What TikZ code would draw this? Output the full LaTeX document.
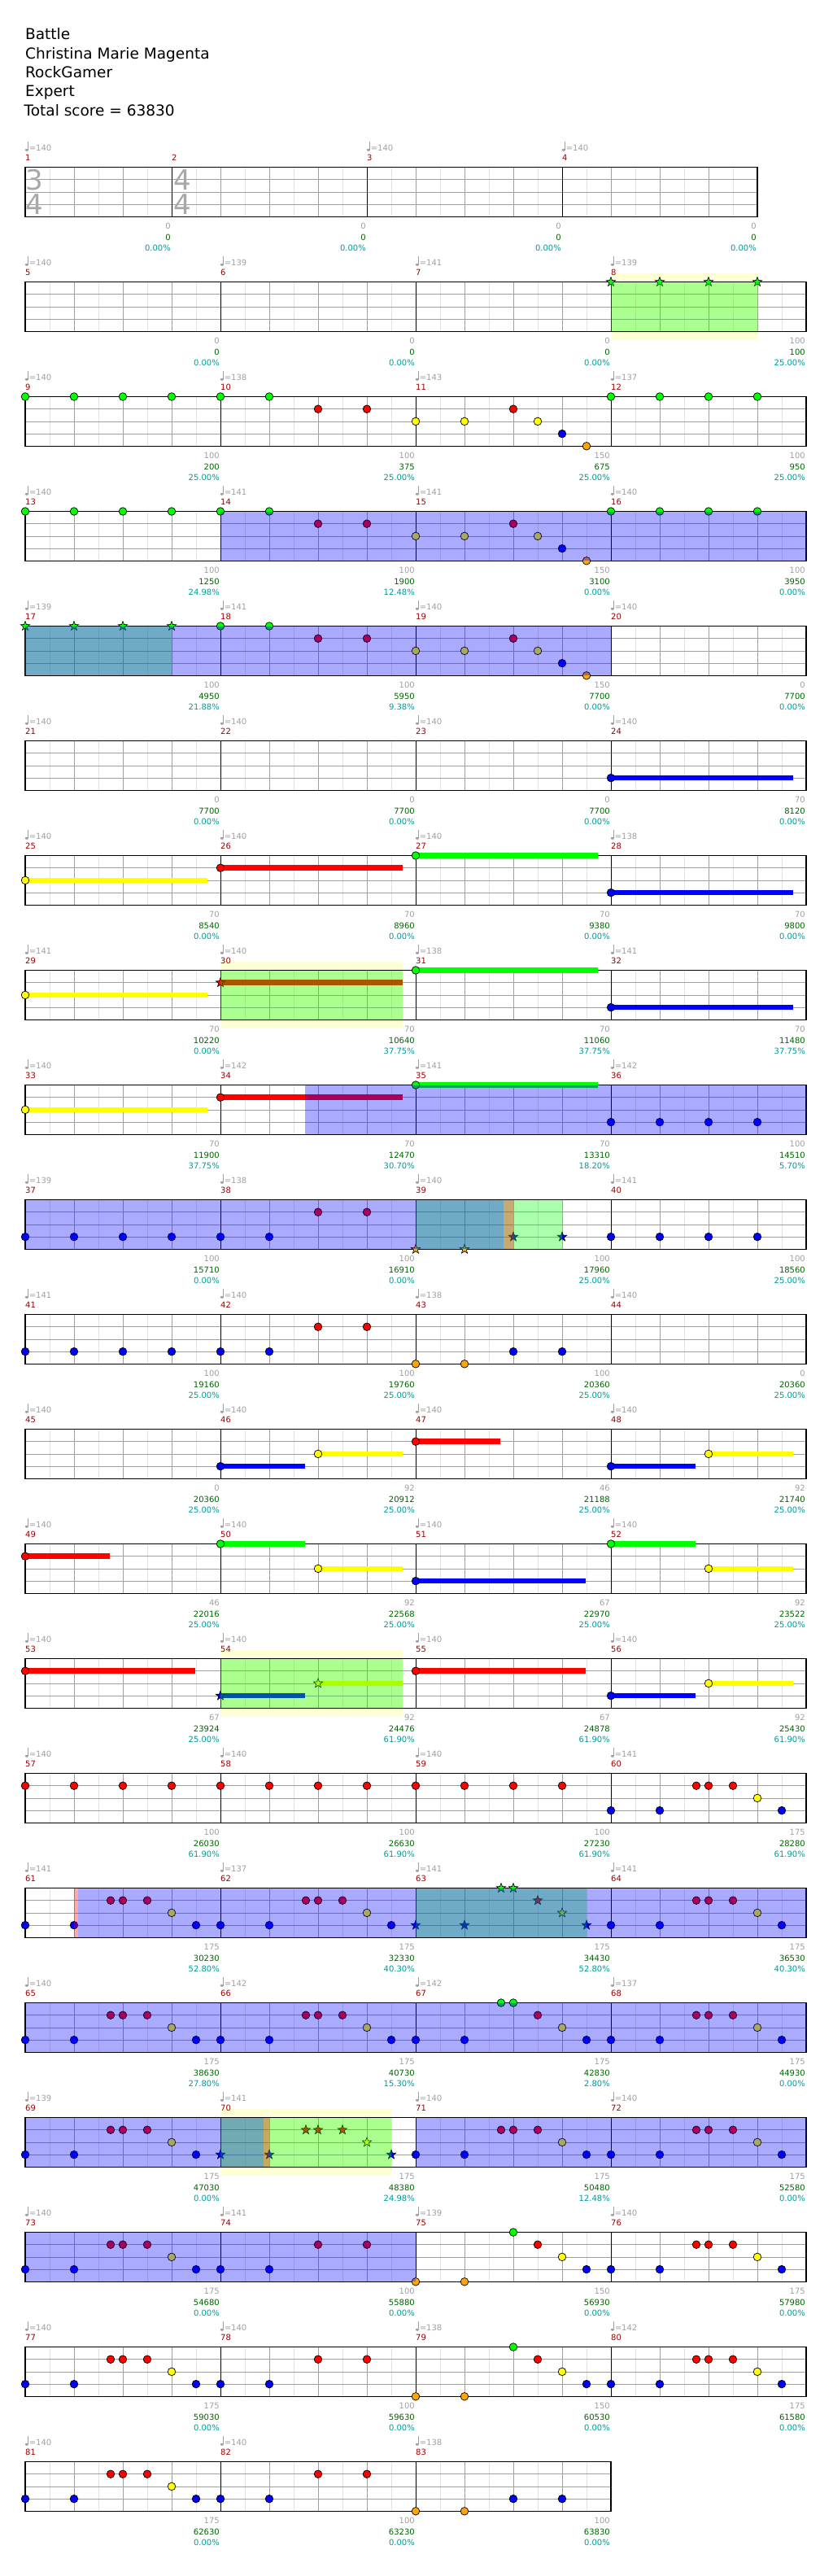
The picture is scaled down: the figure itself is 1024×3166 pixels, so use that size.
\documentclass[tikz,border=0pt]{standalone}
\usepackage{fontspec}
\setmainfont{DejaVu Sans}
\usetikzlibrary{shapes.geometric}
\definecolor{lane0}{HTML}{00FF00}
\definecolor{lane1}{HTML}{FF0000}
\definecolor{lane2}{HTML}{FFFF00}
\definecolor{lane3}{HTML}{0000FF}
\definecolor{lane4}{HTML}{FFA500}
\definecolor{ovgreen}{HTML}{00FF00}
\definecolor{ovblue}{HTML}{0000FF}
\definecolor{ovred}{HTML}{FF0000}
\definecolor{ybg}{HTML}{FFFFD6}
\definecolor{halfgray}{HTML}{E2E2E2}
\definecolor{beatgray}{HTML}{A0A0A0}
\definecolor{tgray}{HTML}{A0A0A0}
\definecolor{tsgray}{HTML}{A8A8A8}
\definecolor{numred}{HTML}{990000}
\definecolor{sgreen}{HTML}{006400}
\definecolor{steal}{HTML}{009999}
\tikzset{
  halfline/.style={draw=halfgray,line width=0.6pt},
  beatline/.style={draw=beatgray,line width=0.7pt},
  measline/.style={draw=black,line width=0.7pt},
  staffborder/.style={draw=black,line width=1.1pt},
  smalltext/.style={inner sep=0pt,font=\fontsize{10}{12}\selectfont},
  numtext/.style={smalltext,anchor=base west,text=numred},
  tempotext/.style={smalltext,anchor=base west,text=tgray},
  scoreA/.style={smalltext,anchor=base east,text=tgray},
  scoreB/.style={smalltext,anchor=base east,text=sgreen},
  scoreC/.style={smalltext,anchor=base east,text=steal},
  starnote/.style={star,star points=5,star point ratio=2.4,minimum size=12pt,inner sep=0pt,draw=black,line width=0.6pt},
  headtext/.style={anchor=base west,inner sep=0pt,font=\fontsize{18.5}{22}\selectfont},
  tsig/.style={inner sep=0pt,text=tsgray,font=\fontsize{34}{40}\selectfont},
}
\newcommand\hxX[1]{31+60*(#1)}
\newcommand\hxgrid[2]{%
  \pgfmathtruncatemacro\hxnh{2*#1-1}%
  \pgfmathtruncatemacro\hxnb{#1-1}%
  \foreach \hk in {1,3,...,\hxnh}{\draw[halfline] ({31+30*\hk},0) -- ({31+30*\hk},60.8);}
  \foreach \hk in {1,...,\hxnb}{\draw[beatline] ({31+60*\hk},0) -- ({31+60*\hk},60.8);}
  \foreach \hl in {1,2,3}{\draw[beatline] (31,{15.2*\hl}) -- ({31+60*#1},{15.2*\hl});}
  \foreach \hm in {#2}{\draw[measline] ({31+60*\hm},0) -- ({31+60*\hm},60.8);}
  \draw[staffborder] (31,0) rectangle ({31+60*#1},60.8);
}
\newcommand\hxnote[2]{\filldraw[fill=lane#2,draw=black,line width=0.7pt] ({\hxX{#1}},{15.2*#2}) circle[radius=4.8pt];}
\newcommand\hxstar[2]{\node[starnote,fill=lane#2] at ({\hxX{#1}},{15.2*#2}) {};}
\newcommand\hxbar[3]{\fill[lane#3] ({\hxX{#1}},{15.2*#3-3.3}) rectangle ({\hxX{#2}},{15.2*#3+3.3});}
\newcommand\hxsus[3]{\hxbar{#1}{#2}{#3}\hxnote{#1}{#3}}
\newcommand\hxsusS[3]{\hxbar{#1}{#2}{#3}\hxstar{#1}{#3}}
\newcommand\hxov[3]{\fill[#3,fill opacity=0.3333] ({\hxX{#1}},0) rectangle ({\hxX{#2}},60.8);}
\newcommand\hxyel[2]{\fill[ybg] ({\hxX{#1}},-10.5) rectangle ({\hxX{#2}},71);}
\newcommand\hxnum[2]{\node[numtext] at ({\hxX{#1}},-7.8) {#2};}
\newcommand\hxtempo[2]{%
  \fill[tgray] ({\hxX{#1}+1.9},-21.2) ellipse[x radius=2pt,y radius=1.5pt];
  \draw[tgray,line width=0.6pt] ({\hxX{#1}+3.6},-21.2) -- ({\hxX{#1}+3.6},-31.5);
  \node[tempotext] at ({\hxX{#1}+4.6},-20.5) {=#2};}
\newcommand\hxmeas[3]{\hxnum{#1}{#2}\hxtempo{#1}{#3}}
\newcommand\hxscore[4]{%
  \node[scoreA] at ({\hxX{#1}-1},76.3) {#2};
  \node[scoreB] at ({\hxX{#1}-1},89.7) {#3};
  \node[scoreC] at ({\hxX{#1}-1},102.7) {#4};}
% riffs
\newcommand\hxriffA[2]{#1{#2}{3}#1{#2+1}{3}#1{#2+1.75}{1}#1{#2+2}{1}#1{#2+2.5}{1}#1{#2+3}{2}#1{#2+3.5}{3}}
\newcommand\hxriffB[1]{\hxnote{#1}{3}\hxnote{#1+1}{3}\hxnote{#1+2}{1}\hxnote{#1+3}{1}}
\newcommand\hxriffC[1]{\hxnote{#1}{4}\hxnote{#1+1}{4}\hxnote{#1+2}{0}\hxnote{#1+2.5}{1}\hxnote{#1+3}{2}\hxnote{#1+3.5}{3}}
\newcommand\hxpatA{%
  \foreach \hb in {0,...,5}{\hxnote{\hb}{0}}
  \hxnote{6}{1}\hxnote{7}{1}\hxnote{8}{2}\hxnote{9}{2}\hxnote{10}{1}\hxnote{10.5}{2}\hxnote{11}{3}\hxnote{11.5}{4}
  \foreach \hb in {12,...,15}{\hxnote{\hb}{0}}}
\begin{document}
\begin{tikzpicture}[x=1pt,y=-1pt]
\useasboundingbox (0,0) rectangle (1024,3166);
\fill[white] (0,0) rectangle (1024,3166);
% header
\node[headtext] (title) at (31,49) {Battle};
\node[headtext] (artist) at (31,72.3) {Christina Marie Magenta};
\node[headtext] (charter) at (31,95.6) {RockGamer};
\node[headtext] (diff) at (31,118.9) {Expert};
\node[headtext] (total) at (29.5,142.2) {Total score = 63830};
% row 1
\begin{scope}[shift={(0,205.5)}]
\hxgrid{15}{3,7,11}
\node[tsig] at (42.5,15.2) {3};
\node[tsig] at (42.5,45.6) {4};
\node[tsig] at (224.5,15.2) {4};
\node[tsig] at (224.5,45.6) {4};
\hxmeas{0}{1}{140}\hxnum{3}{2}\hxmeas{7}{3}{140}\hxmeas{11}{4}{140}
\hxscore{3}{0}{0}{0.00\%}\hxscore{7}{0}{0}{0.00\%}\hxscore{11}{0}{0}{0.00\%}\hxscore{15}{0}{0}{0.00\%}
\end{scope}
% row 2
\begin{scope}[shift={(0,346.5)}]
\hxyel{12}{15}
\hxgrid{16}{4,8,12}
\foreach \hb in {12,...,15}{\hxstar{\hb}{0}}
\hxov{12}{15}{ovgreen}
\hxmeas{0}{5}{140}\hxmeas{4}{6}{139}\hxmeas{8}{7}{141}\hxmeas{12}{8}{139}
\hxscore{4}{0}{0}{0.00\%}\hxscore{8}{0}{0}{0.00\%}\hxscore{12}{0}{0}{0.00\%}\hxscore{16}{100}{100}{25.00\%}
\end{scope}
% row 3
\begin{scope}[shift={(0,487.5)}]
\hxgrid{16}{4,8,12}
\hxpatA
\hxmeas{0}{9}{140}\hxmeas{4}{10}{138}\hxmeas{8}{11}{143}\hxmeas{12}{12}{137}
\hxscore{4}{100}{200}{25.00\%}\hxscore{8}{100}{375}{25.00\%}\hxscore{12}{150}{675}{25.00\%}\hxscore{16}{100}{950}{25.00\%}
\end{scope}
% row 4
\begin{scope}[shift={(0,628.5)}]
\hxgrid{16}{4,8,12}
\hxpatA
\hxov{4}{16}{ovblue}
\hxmeas{0}{13}{140}\hxmeas{4}{14}{141}\hxmeas{8}{15}{141}\hxmeas{12}{16}{140}
\hxscore{4}{100}{1250}{24.98\%}\hxscore{8}{100}{1900}{12.48\%}\hxscore{12}{150}{3100}{0.00\%}\hxscore{16}{100}{3950}{0.00\%}
\end{scope}
% row 5
\begin{scope}[shift={(0,769.5)}]
\hxgrid{16}{4,8,12}
\foreach \hb in {0,...,3}{\hxstar{\hb}{0}}
\hxnote{4}{0}\hxnote{5}{0}
\hxnote{6}{1}\hxnote{7}{1}\hxnote{8}{2}\hxnote{9}{2}\hxnote{10}{1}\hxnote{10.5}{2}\hxnote{11}{3}\hxnote{11.5}{4}
\hxov{0}{3}{ovgreen}
\hxov{0}{12}{ovblue}
\hxmeas{0}{17}{139}\hxmeas{4}{18}{141}\hxmeas{8}{19}{140}\hxmeas{12}{20}{140}
\hxscore{4}{100}{4950}{21.88\%}\hxscore{8}{100}{5950}{9.38\%}\hxscore{12}{150}{7700}{0.00\%}\hxscore{16}{0}{7700}{0.00\%}
\end{scope}
% row 6
\begin{scope}[shift={(0,910.5)}]
\hxgrid{16}{4,8,12}
\hxsus{12}{15.73}{3}
\hxmeas{0}{21}{140}\hxmeas{4}{22}{140}\hxmeas{8}{23}{140}\hxmeas{12}{24}{140}
\hxscore{4}{0}{7700}{0.00\%}\hxscore{8}{0}{7700}{0.00\%}\hxscore{12}{0}{7700}{0.00\%}\hxscore{16}{70}{8120}{0.00\%}
\end{scope}
% row 7
\begin{scope}[shift={(0,1051.5)}]
\hxgrid{16}{4,8,12}
\hxsus{0}{3.74}{2}\hxsus{4}{7.74}{1}\hxsus{8}{11.74}{0}\hxsus{12}{15.73}{3}
\hxmeas{0}{25}{140}\hxmeas{4}{26}{140}\hxmeas{8}{27}{140}\hxmeas{12}{28}{138}
\hxscore{4}{70}{8540}{0.00\%}\hxscore{8}{70}{8960}{0.00\%}\hxscore{12}{70}{9380}{0.00\%}\hxscore{16}{70}{9800}{0.00\%}
\end{scope}
% row 8
\begin{scope}[shift={(0,1192.5)}]
\hxyel{4}{7.74}
\hxgrid{16}{4,8,12}
\hxsus{0}{3.74}{2}\hxsusS{4}{7.74}{1}\hxsus{8}{11.74}{0}\hxsus{12}{15.73}{3}
\hxov{4}{7.74}{ovgreen}
\hxmeas{0}{29}{141}\hxmeas{4}{30}{140}\hxmeas{8}{31}{138}\hxmeas{12}{32}{141}
\hxscore{4}{70}{10220}{0.00\%}\hxscore{8}{70}{10640}{37.75\%}\hxscore{12}{70}{11060}{37.75\%}\hxscore{16}{70}{11480}{37.75\%}
\end{scope}
% row 9
\begin{scope}[shift={(0,1333.5)}]
\hxgrid{16}{4,8,12}
\hxsus{0}{3.74}{2}\hxsus{4}{7.74}{1}\hxsus{8}{11.74}{0}
\foreach \hb in {12,...,15}{\hxnote{\hb}{3}}
\hxov{5.725}{16}{ovblue}
\hxmeas{0}{33}{140}\hxmeas{4}{34}{142}\hxmeas{8}{35}{141}\hxmeas{12}{36}{142}
\hxscore{4}{70}{11900}{37.75\%}\hxscore{8}{70}{12470}{30.70\%}\hxscore{12}{70}{13310}{18.20\%}\hxscore{16}{100}{14510}{5.70\%}
\end{scope}
% row 10
\begin{scope}[shift={(0,1474.5)}]
\hxgrid{16}{4,8,12}
\foreach \hb in {0,...,5}{\hxnote{\hb}{3}}
\hxnote{6}{1}\hxnote{7}{1}
\hxstar{8}{4}\hxstar{9}{4}\hxstar{10}{3}\hxstar{11}{3}
\foreach \hb in {12,...,15}{\hxnote{\hb}{3}}
\hxov{8}{11}{ovgreen}
\hxov{0}{9.807}{ovblue}
\hxov{9.807}{10}{ovred}
\hxmeas{0}{37}{139}\hxmeas{4}{38}{138}\hxmeas{8}{39}{140}\hxmeas{12}{40}{141}
\hxscore{4}{100}{15710}{0.00\%}\hxscore{8}{100}{16910}{0.00\%}\hxscore{12}{100}{17960}{25.00\%}\hxscore{16}{100}{18560}{25.00\%}
\end{scope}
% row 11
\begin{scope}[shift={(0,1615.5)}]
\hxgrid{16}{4,8,12}
\foreach \hb in {0,...,5}{\hxnote{\hb}{3}}
\hxnote{6}{1}\hxnote{7}{1}\hxnote{8}{4}\hxnote{9}{4}\hxnote{10}{3}\hxnote{11}{3}
\hxmeas{0}{41}{141}\hxmeas{4}{42}{140}\hxmeas{8}{43}{138}\hxmeas{12}{44}{140}
\hxscore{4}{100}{19160}{25.00\%}\hxscore{8}{100}{19760}{25.00\%}\hxscore{12}{100}{20360}{25.00\%}\hxscore{16}{0}{20360}{25.00\%}
\end{scope}
% row 12
\begin{scope}[shift={(0,1756.5)}]
\hxgrid{16}{4,8,12}
\hxsus{4}{5.74}{3}\hxsus{6}{7.74}{2}\hxsus{8}{9.73}{1}\hxsus{12}{13.74}{3}\hxsus{14}{15.73}{2}
\hxmeas{0}{45}{140}\hxmeas{4}{46}{140}\hxmeas{8}{47}{140}\hxmeas{12}{48}{140}
\hxscore{4}{0}{20360}{25.00\%}\hxscore{8}{92}{20912}{25.00\%}\hxscore{12}{46}{21188}{25.00\%}\hxscore{16}{92}{21740}{25.00\%}
\end{scope}
% row 13
\begin{scope}[shift={(0,1897.5)}]
\hxgrid{16}{4,8,12}
\hxsus{0}{1.73}{1}\hxsus{4}{5.74}{0}\hxsus{6}{7.74}{2}\hxsus{8}{11.49}{3}\hxsus{12}{13.74}{0}\hxsus{14}{15.73}{2}
\hxmeas{0}{49}{140}\hxmeas{4}{50}{140}\hxmeas{8}{51}{140}\hxmeas{12}{52}{140}
\hxscore{4}{46}{22016}{25.00\%}\hxscore{8}{92}{22568}{25.00\%}\hxscore{12}{67}{22970}{25.00\%}\hxscore{16}{92}{23522}{25.00\%}
\end{scope}
% row 14
\begin{scope}[shift={(0,2038.5)}]
\hxyel{4}{7.74}
\hxgrid{16}{4,8,12}
\hxsus{0}{3.49}{1}\hxsusS{4}{5.74}{3}\hxsusS{6}{7.74}{2}\hxsus{8}{11.49}{1}\hxsus{12}{13.74}{3}\hxsus{14}{15.73}{2}
\hxov{4}{7.74}{ovgreen}
\hxmeas{0}{53}{140}\hxmeas{4}{54}{140}\hxmeas{8}{55}{140}\hxmeas{12}{56}{140}
\hxscore{4}{67}{23924}{25.00\%}\hxscore{8}{92}{24476}{61.90\%}\hxscore{12}{67}{24878}{61.90\%}\hxscore{16}{92}{25430}{61.90\%}
\end{scope}
% row 15
\begin{scope}[shift={(0,2179.5)}]
\hxgrid{16}{4,8,12}
\foreach \hb in {0,...,11}{\hxnote{\hb}{1}}
\hxriffA{\hxnote}{12}
\hxmeas{0}{57}{140}\hxmeas{4}{58}{140}\hxmeas{8}{59}{140}\hxmeas{12}{60}{141}
\hxscore{4}{100}{26030}{61.90\%}\hxscore{8}{100}{26630}{61.90\%}\hxscore{12}{100}{27230}{61.90\%}\hxscore{16}{175}{28280}{61.90\%}
\end{scope}
% row 16
\begin{scope}[shift={(0,2320.5)}]
\hxgrid{16}{4,8,12}
\hxriffA{\hxnote}{0}\hxriffA{\hxnote}{4}
\hxstar{8}{3}\hxstar{9}{3}\hxstar{9.75}{0}\hxstar{10}{0}\hxstar{10.5}{1}\hxstar{11}{2}\hxstar{11.5}{3}
\hxriffA{\hxnote}{12}
\hxov{8}{11.5}{ovgreen}
\hxov{1.078}{16}{ovblue}
\hxov{1}{1.078}{ovred}
\hxmeas{0}{61}{141}\hxmeas{4}{62}{137}\hxmeas{8}{63}{141}\hxmeas{12}{64}{141}
\hxscore{4}{175}{30230}{52.80\%}\hxscore{8}{175}{32330}{40.30\%}\hxscore{12}{175}{34430}{52.80\%}\hxscore{16}{175}{36530}{40.30\%}
\end{scope}
% row 17
\begin{scope}[shift={(0,2461.5)}]
\hxgrid{16}{4,8,12}
\hxriffA{\hxnote}{0}\hxriffA{\hxnote}{4}
\hxnote{8}{3}\hxnote{9}{3}\hxnote{9.75}{0}\hxnote{10}{0}\hxnote{10.5}{1}\hxnote{11}{2}\hxnote{11.5}{3}
\hxriffA{\hxnote}{12}
\hxov{0}{16}{ovblue}
\hxmeas{0}{65}{140}\hxmeas{4}{66}{142}\hxmeas{8}{67}{142}\hxmeas{12}{68}{137}
\hxscore{4}{175}{38630}{27.80\%}\hxscore{8}{175}{40730}{15.30\%}\hxscore{12}{175}{42830}{2.80\%}\hxscore{16}{175}{44930}{0.00\%}
\end{scope}
% row 18
\begin{scope}[shift={(0,2602.5)}]
\hxyel{4}{7.5}
\hxgrid{16}{4,8,12}
\hxriffA{\hxnote}{0}\hxriffA{\hxstar}{4}\hxriffA{\hxnote}{8}\hxriffA{\hxnote}{12}
\hxov{4}{7.5}{ovgreen}
\hxov{0}{4.887}{ovblue}
\hxov{4.887}{5}{ovred}
\hxov{8}{16}{ovblue}
\hxmeas{0}{69}{139}\hxmeas{4}{70}{141}\hxmeas{8}{71}{140}\hxmeas{12}{72}{140}
\hxscore{4}{175}{47030}{0.00\%}\hxscore{8}{175}{48380}{24.98\%}\hxscore{12}{175}{50480}{12.48\%}\hxscore{16}{175}{52580}{0.00\%}
\end{scope}
% row 19
\begin{scope}[shift={(0,2743.5)}]
\hxgrid{16}{4,8,12}
\hxriffA{\hxnote}{0}\hxriffB{4}\hxriffC{8}\hxriffA{\hxnote}{12}
\hxov{0}{8}{ovblue}
\hxmeas{0}{73}{140}\hxmeas{4}{74}{141}\hxmeas{8}{75}{139}\hxmeas{12}{76}{140}
\hxscore{4}{175}{54680}{0.00\%}\hxscore{8}{100}{55880}{0.00\%}\hxscore{12}{150}{56930}{0.00\%}\hxscore{16}{175}{57980}{0.00\%}
\end{scope}
% row 20
\begin{scope}[shift={(0,2884.5)}]
\hxgrid{16}{4,8,12}
\hxriffA{\hxnote}{0}\hxriffB{4}\hxriffC{8}\hxriffA{\hxnote}{12}
\hxmeas{0}{77}{140}\hxmeas{4}{78}{140}\hxmeas{8}{79}{138}\hxmeas{12}{80}{142}
\hxscore{4}{175}{59030}{0.00\%}\hxscore{8}{100}{59630}{0.00\%}\hxscore{12}{150}{60530}{0.00\%}\hxscore{16}{175}{61580}{0.00\%}
\end{scope}
% row 21
\begin{scope}[shift={(0,3025.5)}]
\hxgrid{12}{4,8}
\hxriffA{\hxnote}{0}\hxriffB{4}
\hxnote{8}{4}\hxnote{9}{4}\hxnote{10}{3}\hxnote{11}{3}
\hxmeas{0}{81}{140}\hxmeas{4}{82}{140}\hxmeas{8}{83}{138}
\hxscore{4}{175}{62630}{0.00\%}\hxscore{8}{100}{63230}{0.00\%}\hxscore{12}{100}{63830}{0.00\%}
\end{scope}
\end{tikzpicture}
\end{document}
